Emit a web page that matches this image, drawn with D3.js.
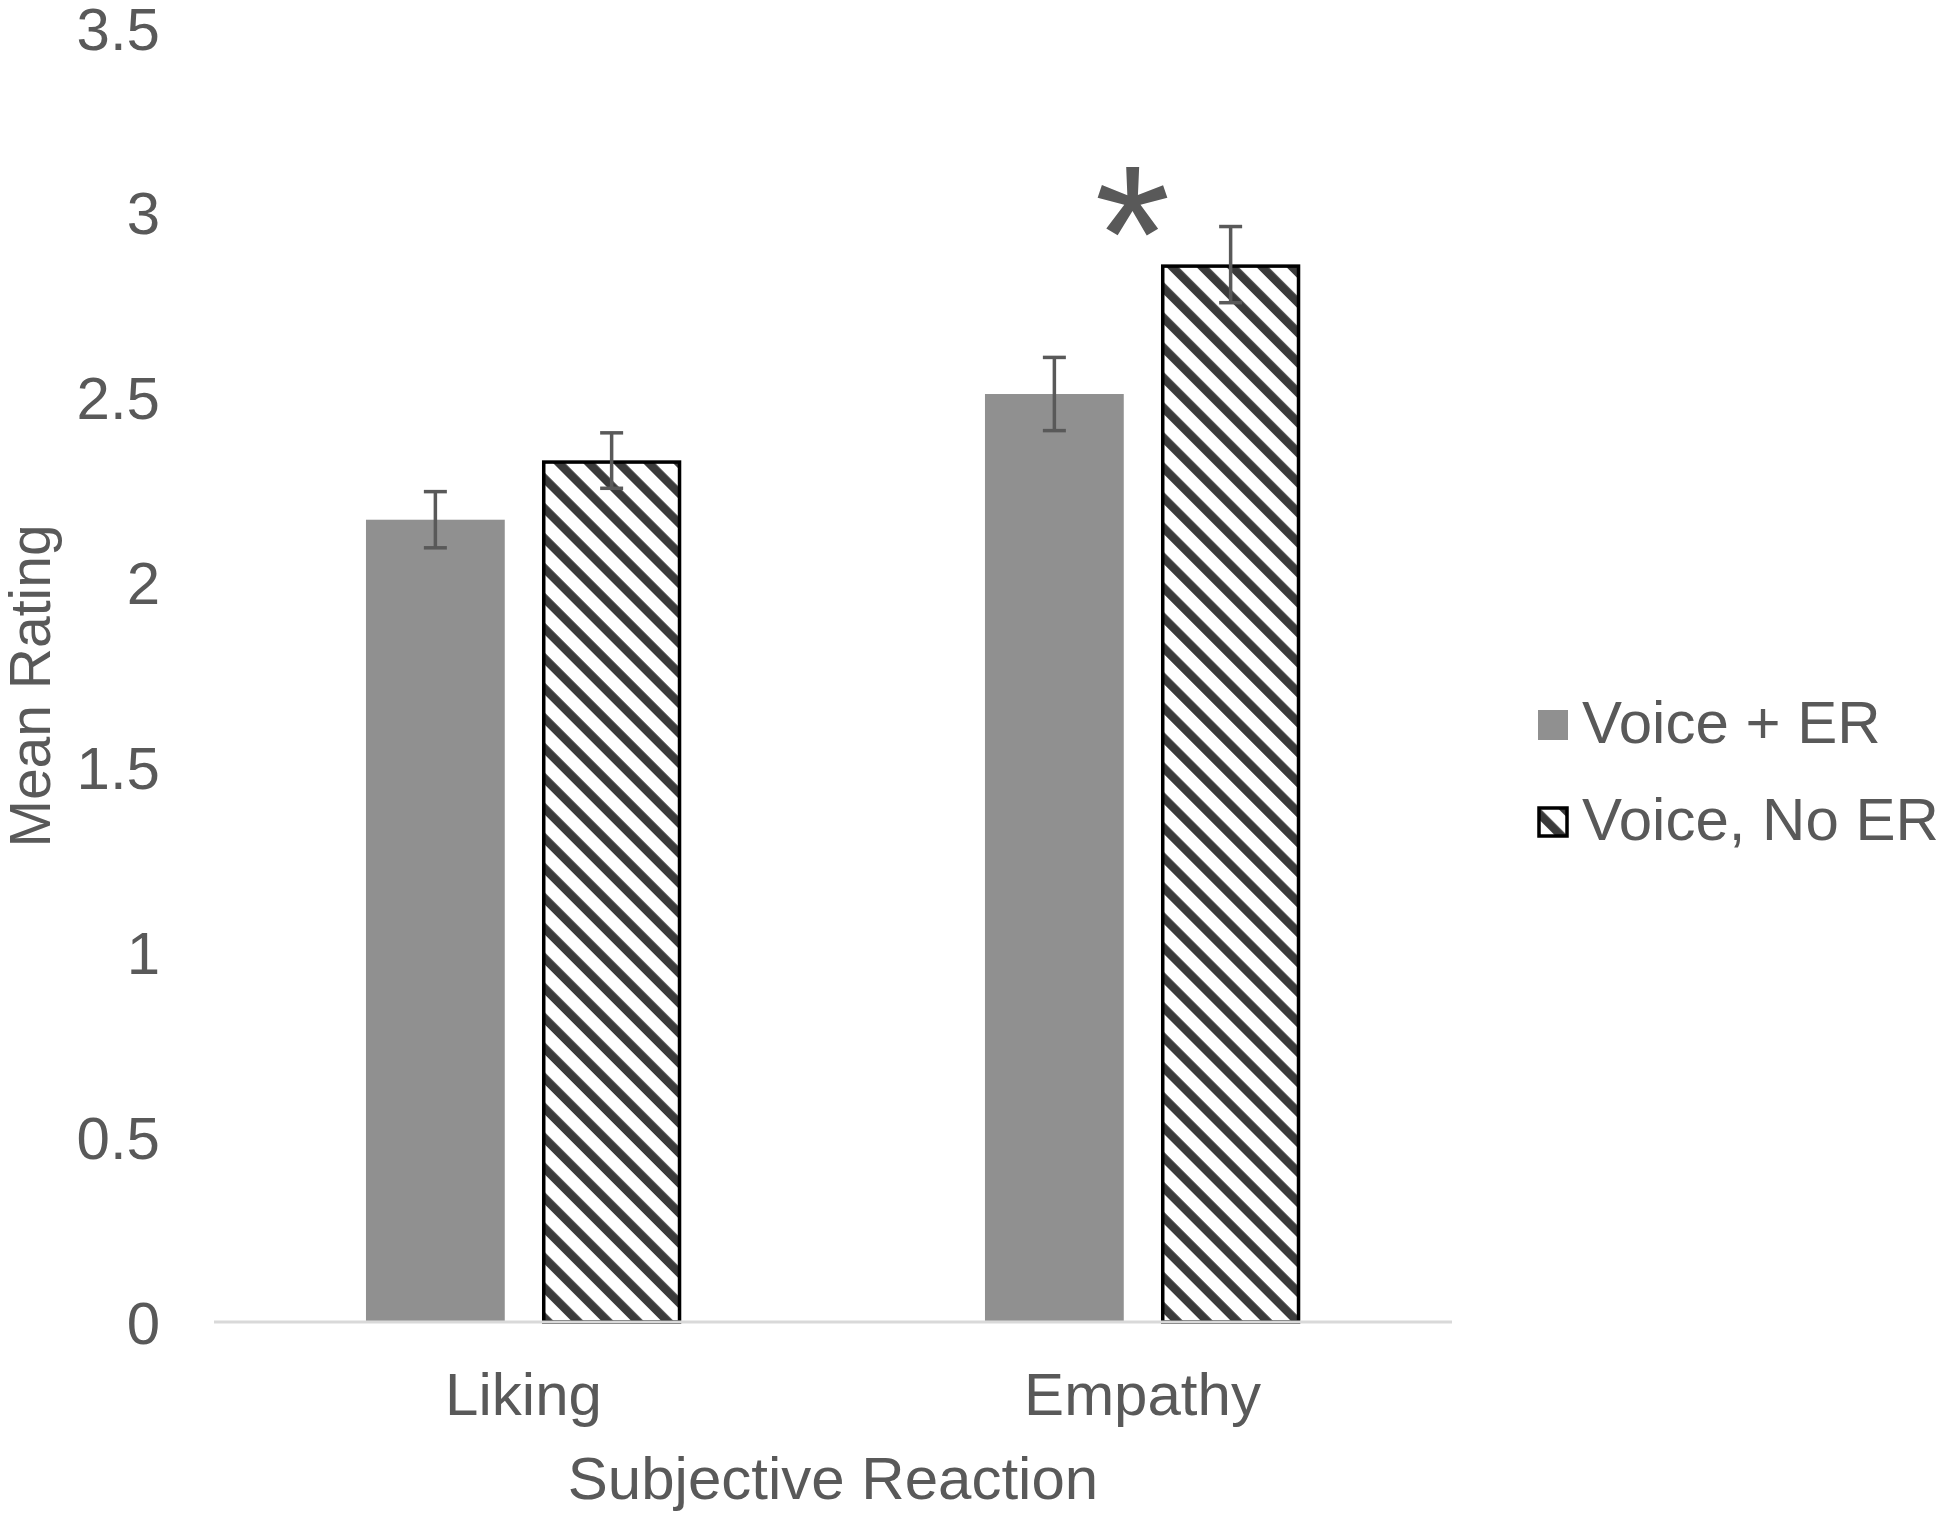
<!DOCTYPE html>
<html>
<head>
<meta charset="utf-8">
<script src="https://cdnjs.cloudflare.com/ajax/libs/d3/7.8.5/d3.min.js"></script>
<style>
  html, body { margin: 0; padding: 0; background: #ffffff; }
  svg { display: block; }
  text { font-family: "Liberation Sans", Arial, sans-serif; fill: #595959; }
</style>
</head>
<body>
<svg id="chart" width="1950" height="1519"></svg>
<script>
// ---- data ----
const categories = ["Liking", "Empathy"];
const seriesNames = ["Voice + ER", "Voice, No ER"];
const voiceER = [2.17, 2.51];
const voiceNoER = [2.33, 2.86];
const errVoiceER = [0.076, 0.099];
const errVoiceNoER = [0.075, 0.103];
const yTicks = [0, 0.5, 1, 1.5, 2, 2.5, 3, 3.5];
const yTickLabels = ["0", "0.5", "1", "1.5", "2", "2.5", "3", "3.5"];
const significance = ["", "*"];
const xTitle = "Subjective Reaction";
const yTitle = "Mean Rating";

const seriesValues = [voiceER, voiceNoER];
const seriesErrors = [errVoiceER, errVoiceNoER];

// ---- layout ----
const plot = { left: 214, right: 1452, top: 28, bottom: 1322 };
const fontSize = 60;

const svg = d3.select("#chart");
const defs = svg.append("defs");

// hatch pattern (wide downward diagonal)
const P = 21.2;
const pat = defs.append("pattern")
  .attr("id", "hatch")
  .attr("patternUnits", "userSpaceOnUse")
  .attr("width", P).attr("height", P)
  .attr("patternTransform", "rotate(-45)");
pat.append("rect").attr("width", P).attr("height", P).attr("fill", "#ffffff");
pat.append("rect").attr("x", 0).attr("y", 0).attr("width", 8.5).attr("height", P).attr("fill", "#3a3a3a");

const fills = ["#909090", "url(#hatch)"];
const strokes = ["none", "#000000"];

// scales
const y = d3.scaleLinear().domain([0, 3.5]).range([plot.bottom, plot.top]);
const x0 = d3.scaleBand().domain(categories).range([plot.left, plot.right]).paddingInner(0).paddingOuter(0);

// Excel style: gap width 219%, overlap -27%
const gapW = 2.19, overlap = -0.27;
const band = x0.bandwidth();
const barW = band / (2 + (-overlap) + gapW);
const step = barW * (1 - overlap);
const pi = 1 - barW / step;
const po = (band / step - 2 + pi) / 2;
const x1 = d3.scaleBand().domain(d3.range(seriesNames.length)).range([0, band]).paddingInner(pi).paddingOuter(po);

// bars
const rows = [];
categories.forEach((c, ci) => {
  seriesNames.forEach((s, si) => {
    rows.push({ c, ci, si, v: seriesValues[si][ci], e: seriesErrors[si][ci] });
  });
});

const g = svg.append("g");
g.selectAll("rect.bar").data(rows).enter().append("rect")
  .attr("class", "bar")
  .attr("x", d => x0(d.c) + x1(d.si) + (d.si === 1 ? 1.5 : 0))
  .attr("y", d => y(d.v) + (d.si === 1 ? 1.5 : 0))
  .attr("width", d => x1.bandwidth() - (d.si === 1 ? 3 : 0))
  .attr("height", d => y(0) - y(d.v) - (d.si === 1 ? 1.5 : 0))
  .attr("fill", d => fills[d.si])
  .attr("stroke", d => strokes[d.si])
  .attr("stroke-width", 3.5);

// axis line
svg.append("line")
  .attr("x1", plot.left).attr("x2", plot.right)
  .attr("y1", y(0)).attr("y2", y(0))
  .attr("stroke", "#d9d9d9").attr("stroke-width", 3);

// error bars
const capHalf = 11.5;
const eg = svg.append("g").attr("stroke", "#595959").attr("stroke-width", 3.5);
rows.forEach(d => {
  const cx = x0(d.c) + x1(d.si) + x1.bandwidth() / 2;
  eg.append("line").attr("x1", cx).attr("x2", cx).attr("y1", y(d.v + d.e)).attr("y2", y(d.v - d.e));
  eg.append("line").attr("x1", cx - capHalf).attr("x2", cx + capHalf).attr("y1", y(d.v + d.e)).attr("y2", y(d.v + d.e));
  eg.append("line").attr("x1", cx - capHalf).attr("x2", cx + capHalf).attr("y1", y(d.v - d.e)).attr("y2", y(d.v - d.e));
});

// y tick labels
svg.append("g").selectAll("text").data(yTicks).enter().append("text")
  .attr("x", 160)
  .attr("y", d => y(d))
  .attr("dy", "0.36em")
  .attr("text-anchor", "end")
  .attr("font-size", fontSize)
  .text((d, i) => yTickLabels[i]);

// category labels
svg.append("g").selectAll("text").data(categories).enter().append("text")
  .attr("x", d => x0(d) + band / 2)
  .attr("y", 1415)
  .attr("text-anchor", "middle")
  .attr("font-size", fontSize)
  .text(d => d);

// axis titles
svg.append("text")
  .attr("x", (plot.left + plot.right) / 2)
  .attr("y", 1499)
  .attr("text-anchor", "middle")
  .attr("font-size", fontSize)
  .text(xTitle);

svg.append("text")
  .attr("transform", `translate(50,686) rotate(-90)`)
  .attr("text-anchor", "middle")
  .attr("font-size", 57)
  .text(yTitle);

// significance marker
categories.forEach((c, ci) => {
  if (!significance[ci]) return;
  svg.append("text")
    .attr("x", x0(c) + band / 2 - 10)
    .attr("y", y(seriesValues[1][ci] + seriesErrors[1][ci]) + 74)
    .attr("text-anchor", "middle")
    .attr("font-size", 195)
    .text(significance[ci]);
});

// legend
const legend = svg.append("g");
const legendY = [725, 822];
seriesNames.forEach((s, si) => {
  legend.append("rect")
    .attr("x", 1538 + (si === 1 ? 1 : 0))
    .attr("y", legendY[si] - 15 + (si === 1 ? 1 : 0))
    .attr("width", 30 - (si === 1 ? 2 : 0))
    .attr("height", 30 - (si === 1 ? 2 : 0))
    .attr("fill", fills[si])
    .attr("stroke", strokes[si])
    .attr("stroke-width", 3.5);
  legend.append("text")
    .attr("x", 1582)
    .attr("y", legendY[si] + 18)
    .attr("font-size", fontSize)
    .text(s);
});
</script>
</body>
</html>
